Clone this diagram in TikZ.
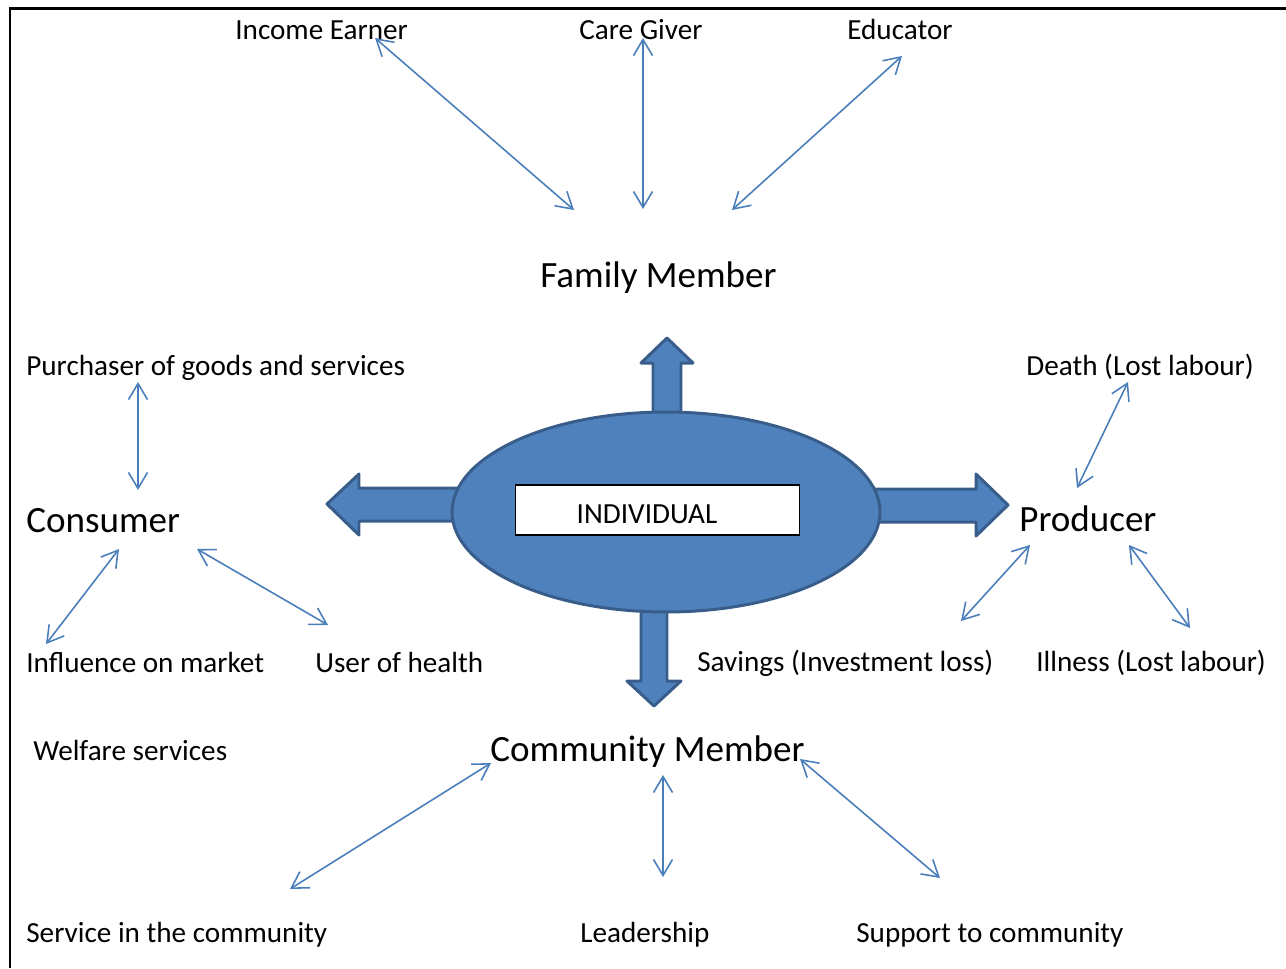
\documentclass[tikz,border=0pt]{standalone}
\usepackage{fontspec}
\setmainfont{Carlito}
\usetikzlibrary{arrows.meta, shapes.geometric}

\definecolor{shapeblue}{HTML}{4F81BD}
\definecolor{edgeblue}{HTML}{385D8A}
\definecolor{linkblue}{HTML}{4A7EBB}

\begin{document}
\begin{tikzpicture}[
  x=0.02cm, y=-0.02cm,
  smalltext/.style = {font=\fontsize{16.6}{20}\selectfont, inner sep=0pt, anchor=base west},
  bigtext/.style = {font=\fontsize{21.1}{25}\selectfont, inner sep=0pt, anchor=base west},
  link/.style = {draw=linkblue, line width=0.9pt,
    {Straight Barb[length=3.2mm,width=3.8mm]}-{Straight Barb[length=3.2mm,width=3.8mm]}},
  bigarrow/.style = {fill=shapeblue, draw=edgeblue, line width=1.7pt, line join=round}
]
  \useasboundingbox (0,0) rectangle (1286,968);

  % page frame (open at right and bottom)
  \draw[line width=1.7pt] (10,968) -- (10,8) -- (1286,8);

  % Family side
  \node[smalltext] (earner) at (235,39) {Income Earner};
  \node[smalltext] (giver) at (579,39) {Care Giver};
  \node[smalltext] (educator) at (847,39) {Educator};
  \node[bigtext] (family) at (540,287) {Family Member};

  % Consumer side
  \node[smalltext] (purchaser) at (26,375) {Purchaser of goods and services};
  \node[bigtext] (consumer) at (26,532) {Consumer};
  \node[smalltext] (influence) at (26,672) {Influence on market};
  \node[smalltext] (health) at (315,672) {User of health};
  \node[smalltext] (welfare) at (33,760) {Welfare services};

  % Producer side
  \node[smalltext] (death) at (1026,375) {Death (Lost labour)};
  \node[bigtext] (producer) at (1019,531) {Producer};
  \node[smalltext] (savings) at (697,671) {Savings (Investment loss)};
  \node[smalltext] (illness) at (1036,671) {Illness (Lost labour)};

  % Community side
  \node[bigtext] (community) at (490,761) {Community Member};
  \node[smalltext] (service) at (26,942) {Service in the community};
  \node[smalltext] (leadership) at (580,942) {Leadership};
  \node[smalltext] (support) at (856,942) {Support to community};

  % block arrows out of the centre
  \draw[bigarrow] (653,420) -- (653,363) -- (641,363) -- (667,338) -- (693,363) -- (681,363) -- (681,420) -- cycle;
  \draw[bigarrow] (460,488) -- (359,488) -- (359,474) -- (327,504) -- (359,535) -- (359,521) -- (460,521) -- cycle;
  \draw[bigarrow] (870,489) -- (976,489) -- (976,474) -- (1008,505) -- (976,536) -- (976,522) -- (870,522) -- cycle;
  \draw[bigarrow] (641,600) -- (641,681) -- (627,681) -- (654,706) -- (681,681) -- (667,681) -- (667,600) -- cycle;

  % centre
  \node[ellipse, fill=shapeblue, draw=edgeblue, line width=1.7pt,
        minimum width=8.56cm, minimum height=4cm] (centre) at (666,512) {};
  \node[draw, fill=white, line width=0.6pt, minimum width=5.68cm, minimum height=1cm] (box) at (657.5,510) {};
  \node[smalltext, anchor=base] (individual) at (647,523) {INDIVIDUAL};

  % link end points
  \coordinate (earner_a) at (375,38);   \coordinate (earner_b) at (574,210);
  \coordinate (giver_a) at (643,38);    \coordinate (giver_b) at (643,209);
  \coordinate (educator_a) at (902,56); \coordinate (educator_b) at (732,210);
  \coordinate (purchaser_a) at (138,382); \coordinate (purchaser_b) at (138,490);
  \coordinate (influence_a) at (119,549); \coordinate (influence_b) at (46,644);
  \coordinate (health_a) at (197,549);  \coordinate (health_b) at (328,625);
  \coordinate (death_a) at (1128,382);  \coordinate (death_b) at (1077,488);
  \coordinate (savings_a) at (1030,545); \coordinate (savings_b) at (961,621);
  \coordinate (illness_a) at (1129,545); \coordinate (illness_b) at (1190,628);
  \coordinate (service_a) at (491,763); \coordinate (service_b) at (290,889);
  \coordinate (leadership_a) at (663,775); \coordinate (leadership_b) at (663,877);
  \coordinate (support_a) at (800,759); \coordinate (support_b) at (940,878);

  % two-way links
  \draw[link] (earner_a) -- (earner_b);
  \draw[link] (giver_a) -- (giver_b);
  \draw[link] (educator_a) -- (educator_b);
  \draw[link] (purchaser_a) -- (purchaser_b);
  \draw[link] (influence_a) -- (influence_b);
  \draw[link] (health_a) -- (health_b);
  \draw[link] (death_a) -- (death_b);
  \draw[link] (savings_a) -- (savings_b);
  \draw[link] (illness_a) -- (illness_b);
  \draw[link] (service_a) -- (service_b);
  \draw[link] (leadership_a) -- (leadership_b);
  \draw[link] (support_a) -- (support_b);

\end{tikzpicture}
\end{document}
